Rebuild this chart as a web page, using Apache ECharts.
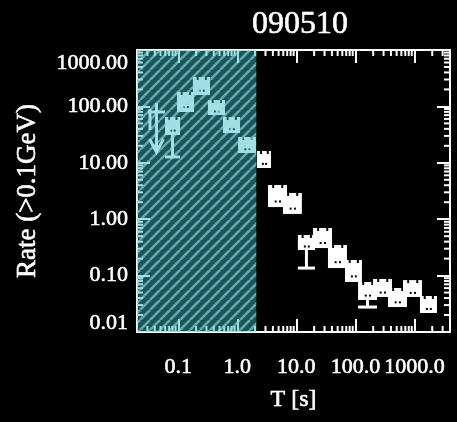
<!DOCTYPE html>
<html>
<head>
<meta charset="utf-8">
<script src="https://cdn.jsdelivr.net/npm/echarts@6/dist/echarts.min.js"></script>
<style>
html,body{margin:0;padding:0;background:#000;}
#chart{width:457px;height:422px;}
</style>
</head>
<body>
<div id="chart"></div>
<script>
// ---- data ----
const titleText = '090510';
const xAxisName = 'T [s]';
const yAxisName = 'Rate (>0.1GeV)';
// time bins (s)
const tStart = [0.0596, 0.095, 0.177, 0.318, 0.571, 1.03, 2.15, 3.31, 5.93, 10.6, 19.1, 34.3, 66.6, 111, 199, 356, 640, 1240];
const tEnd   = [0.107, 0.185, 0.344, 0.618, 1.11, 2.07, 3.72, 6.94, 12.4, 20.7, 40.1, 71.9, 129, 232, 416, 747, 1340, 2405];
// rate box extents
const rateHigh = [64.9, 180, 332, 130, 64.9, 28.7, 16.2, 4.04, 2.92, 0.525, 0.698, 0.349, 0.189, 0.0771, 0.0871, 0.0603, 0.0832, 0.0435];
const rateLow  = [31.1, 79.6, 159, 70.4, 33.8, 14.9, 8.09, 1.64, 1.24, 0.284, 0.308, 0.136, 0.0771, 0.0369, 0.0418, 0.0277, 0.0418, 0.0217];
// extended lower error (null = none)
const errLow = [12.7, null, null, null, null, null, null, null, null, 0.136, null, null, null, 0.0277, null, null, null, null];
// upper limit in first bin
const ulStart = [0.0307];
const ulEnd = [0.0596];
const ulBar = [79.6];
const ulTop = [115];
const ulTip = [15.5];
// shaded prompt-emission interval
const bandStart = [0.02];
const bandEnd = [2.1];
// axes
const xMin = 0.02, xMax = 4000;
const yMin = 0.01, yMax = 1000;
const xTickValues = [0.1, 1, 10, 100, 1000];
const xTickLabels = ['0.1', '1.0', '10.0', '100.0', '1000.0'];
const yTickValues = [0.01, 0.1, 1, 10, 100, 1000];
const yTickLabels = ['0.01', '0.10', '1.00', '10.00', '100.00', '1000.00'];
const mantissas = [2, 3, 4, 5, 6, 7, 8, 9];
const decades = [0.01, 0.1, 1, 10, 100, 1000];

// ---- build ----
const FONT = 'Liberation Serif';
const WHITE = '#ffffff';
const thick = { textBorderColor: WHITE, textBorderWidth: 0.6 };
function findLabel(vals, labs, v) {
  const i = vals.findIndex(t => Math.abs(Math.log10(t) - Math.log10(v)) < 0.01);
  return i >= 0 ? labs[i] : '';
}
const minorX = [], minorY = [];
decades.forEach(d => mantissas.forEach(m => {
  const v = d * m;
  if (v > xMin * 1.001 && v < xMax * 0.999) minorX.push(v);
  if (v > yMin * 1.001 && v < yMax * 0.999) minorY.push(v);
}));

// hatch pattern
const P = 10;
const pc = document.createElement('canvas');
pc.width = P; pc.height = P;
const g = pc.getContext('2d');
g.fillStyle = 'rgba(63,184,190,0.46)';
g.fillRect(0, 0, P, P);
g.strokeStyle = 'rgba(140,230,236,0.6)';
g.lineWidth = 2.6;
[-P, 0, P].forEach(k => { g.beginPath(); g.moveTo(k, P); g.lineTo(k + P, 0); g.stroke(); });

const boxData = tStart.map((t, i) => [t, tEnd[i], rateHigh[i], rateLow[i]]);
const errData = [];
tStart.forEach((t, i) => { if (errLow[i] != null) errData.push([t, tEnd[i], rateLow[i], errLow[i]]); });
const ulData = ulStart.map((t, i) => [t, ulEnd[i], ulBar[i], ulTop[i], ulTip[i]]);
const bandData = bandStart.map((t, i) => [t, bandEnd[i]]);

const axisCommon = {
  type: 'log', logBase: 10,
  axisLine: { show: true, lineStyle: { color: WHITE, width: 2 } },
  axisTick: { show: true, inside: true, length: 13, lineStyle: { color: WHITE, width: 2 } },
  splitLine: { show: false }
};
const lbl = Object.assign({ color: WHITE, fontFamily: FONT, fontSize: 22 }, thick);

const option = {
  backgroundColor: '#000',
  animation: false,
  title: {
    text: titleText, left: 295, top: 4, textAlign: 'center',
    textStyle: Object.assign({ color: WHITE, fontFamily: FONT, fontSize: 32, fontWeight: 'normal' }, thick)
  },
  grid: { left: 137, right: 7, top: 50, bottom: 90, show: false },
  xAxis: [
    Object.assign({}, axisCommon, {
      min: xMin, max: xMax, position: 'bottom',
      name: xAxisName, nameLocation: 'middle', nameGap: 56,
      nameTextStyle: Object.assign({ color: WHITE, fontFamily: FONT, fontSize: 24 }, thick),
      axisLabel: Object.assign({
        show: true, margin: 24,
        showMinLabel: false, showMaxLabel: false,
        formatter: v => findLabel(xTickValues, xTickLabels, v)
      }, lbl)
    }),
    Object.assign({}, axisCommon, {
      min: xMin, max: xMax, position: 'top', axisLabel: { show: false }
    })
  ],
  yAxis: [
    Object.assign({}, axisCommon, {
      min: yMin, max: yMax, position: 'left',
      name: yAxisName, nameLocation: 'middle', nameGap: 96, nameRotate: 90,
      nameTextStyle: Object.assign({ color: WHITE, fontFamily: FONT, fontSize: 27 }, thick),
      axisLabel: Object.assign({
        show: true, margin: 9,
        formatter: v => {
          const s = findLabel(yTickValues, yTickLabels, v);
          if (s === yTickLabels[yTickLabels.length - 1]) return '{top|' + s + '}';
          if (s === yTickLabels[0]) return '{bot|' + s + '}';
          return s;
        },
        rich: {
          top: Object.assign({ padding: [26, 0, 0, 0] }, lbl),
          bot: Object.assign({ padding: [0, 0, 18, 0] }, lbl)
        }
      }, lbl)
    }),
    Object.assign({}, axisCommon, {
      min: yMin, max: yMax, position: 'right', axisLabel: { show: false }
    })
  ],
  series: [
    {
      type: 'custom', name: 'minorTicks', xAxisIndex: 0, yAxisIndex: 0, z: 3, silent: true,
      data: [0],
      renderItem: (params, api) => {
        const cs = params.coordSys;
        const L = cs.x, R = cs.x + cs.width, T = cs.y, B = cs.y + cs.height;
        const children = [];
        const st = { stroke: WHITE, lineWidth: 2 };
        minorX.forEach(v => {
          const px = api.coord([v, 1])[0];
          children.push({ type: 'line', shape: { x1: px, y1: B, x2: px, y2: B - 6 }, style: st });
          children.push({ type: 'line', shape: { x1: px, y1: T, x2: px, y2: T + 6 }, style: st });
        });
        minorY.forEach(v => {
          const py = api.coord([1, v])[1];
          children.push({ type: 'line', shape: { x1: L, y1: py, x2: L + 6, y2: py }, style: st });
          children.push({ type: 'line', shape: { x1: R, y1: py, x2: R - 6, y2: py }, style: st });
        });
        return { type: 'group', children };
      }
    },
    {
      type: 'custom', name: 'boxes', xAxisIndex: 0, yAxisIndex: 0, z: 4,
      data: boxData,
      renderItem: (params, api) => {
        const p1 = api.coord([api.value(0), api.value(2)]);
        const p2 = api.coord([api.value(1), api.value(3)]);
        const w = p2[0] - p1[0], h = p2[1] - p1[1];
        const dark = { fill: '#000' };
        return { type: 'group', children: [
          { type: 'rect', shape: { x: p1[0], y: p1[1], width: w, height: h }, style: { fill: WHITE } },
          { type: 'rect', shape: { x: p1[0] + w * 0.22, y: p1[1], width: 2, height: 3 }, style: dark },
          { type: 'rect', shape: { x: p1[0] + w * 0.70, y: p1[1], width: 2, height: 3 }, style: dark },
          { type: 'rect', shape: { x: p1[0] + w * 0.35, y: p1[1] + h * 0.7, width: 2, height: 2 }, style: dark },
          { type: 'rect', shape: { x: p1[0] + w * 0.58, y: p1[1] + h * 0.7, width: 2, height: 2 }, style: dark }
        ] };
      }
    },
    {
      type: 'custom', name: 'errors', xAxisIndex: 0, yAxisIndex: 0, z: 4,
      data: errData,
      renderItem: (params, api) => {
        const a = api.coord([api.value(0), api.value(2)]);
        const b = api.coord([api.value(1), api.value(3)]);
        const cx = (a[0] + b[0]) / 2;
        const st = { stroke: WHITE, lineWidth: 3 };
        return { type: 'group', children: [
          { type: 'line', shape: { x1: cx, y1: a[1], x2: cx, y2: b[1] }, style: st },
          { type: 'line', shape: { x1: a[0], y1: b[1], x2: b[0], y2: b[1] }, style: st }
        ] };
      }
    },
    {
      type: 'custom', name: 'upperLimit', xAxisIndex: 0, yAxisIndex: 0, z: 4,
      data: ulData,
      renderItem: (params, api) => {
        const a = api.coord([api.value(0), api.value(2)]);
        const b = api.coord([api.value(1), api.value(2)]);
        const top = api.coord([api.value(0), api.value(3)]);
        const tip = api.coord([api.value(0), api.value(4)]);
        const cx = (a[0] + b[0]) / 2;
        const st = { stroke: WHITE, lineWidth: 3, fill: 'none' };
        return { type: 'group', children: [
          { type: 'line', shape: { x1: a[0], y1: a[1], x2: b[0], y2: b[1] }, style: st },
          { type: 'line', shape: { x1: a[0] + 2, y1: top[1] + 6, x2: a[0] + 2, y2: a[1] + 18 }, style: st },
          { type: 'line', shape: { x1: cx, y1: top[1], x2: cx, y2: tip[1] }, style: st },
          { type: 'polyline', shape: { points: [[cx - 7, tip[1] - 13], [cx, tip[1]], [cx + 7, tip[1] - 13]] }, style: st }
        ] };
      }
    },
    {
      type: 'custom', name: 'band', xAxisIndex: 0, yAxisIndex: 0, z: 10, silent: true,
      data: bandData,
      renderItem: (params, api) => {
        const cs = params.coordSys;
        const x1 = api.coord([api.value(0), 1])[0];
        const x2 = api.coord([api.value(1), 1])[0];
        return { type: 'rect', shape: { x: x1, y: cs.y, width: x2 - x1, height: cs.height },
          style: { fill: { image: pc, repeat: 'repeat' } } };
      }
    }
  ]
};

const chart = echarts.init(document.getElementById('chart'), null, { renderer: 'canvas' });
chart.setOption(option);
</script>
</body>
</html>
